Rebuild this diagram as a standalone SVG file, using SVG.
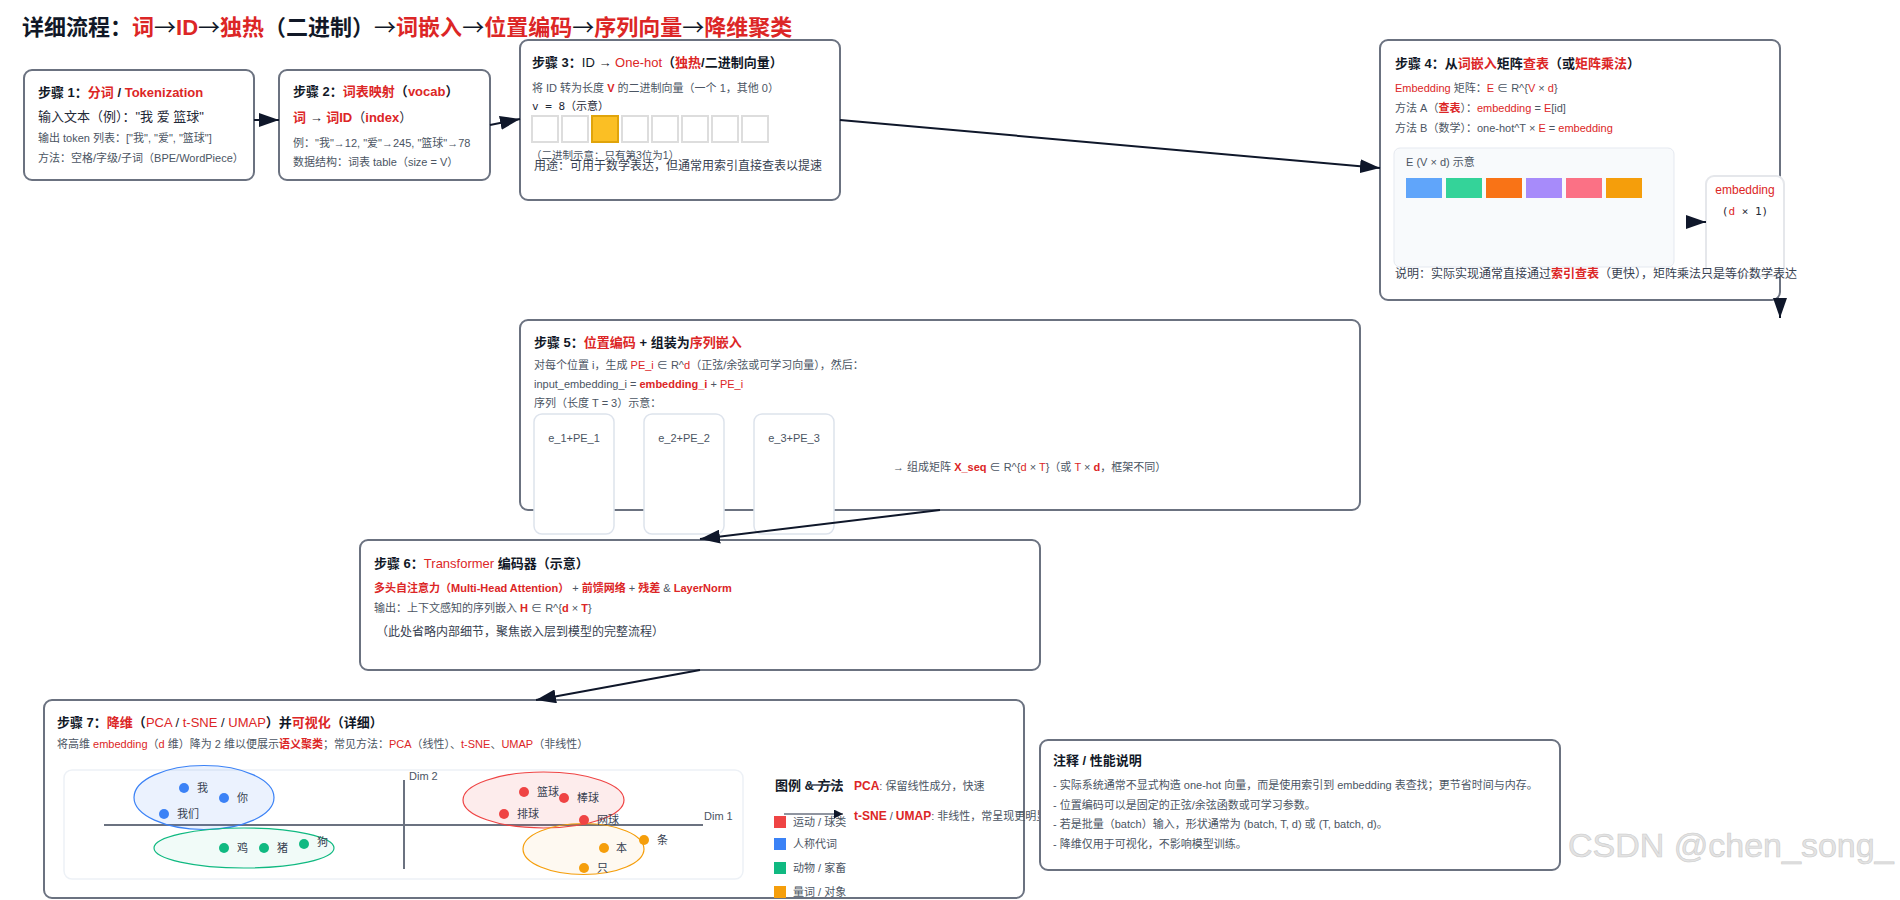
<svg xmlns="http://www.w3.org/2000/svg" width="1900" height="900" viewBox="0 0 1900 900">
<defs>
<style>
text { font-family: 'Liberation Sans', 'Noto Sans CJK SC', sans-serif; }
.box { fill: #ffffff; stroke: #6b7280; stroke-width: 2; }
.ttl { font-size: 22px; font-weight: bold; fill: #111827; }
.arr { font-weight: normal; font-family: 'Noto Sans CJK SC', sans-serif; }
.h { font-size: 13px; font-weight: bold; fill: #111827; }
.b13 { font-size: 13px; fill: #1f2937; }
.s { font-size: 11px; fill: #4b5563; }
.s12 { font-size: 12px; fill: #374151; }
.r { fill: #dc2626; }
.bd { font-weight: bold; }
.nb { font-weight: normal; }
.mono { font-family: 'DejaVu Sans Mono', 'Liberation Mono', 'Noto Sans CJK SC', monospace; }
.cell { fill: #ffffff; stroke: #dddddd; stroke-width: 2; }
.sub { fill: #ffffff; stroke: #dde3ec; stroke-width: 1.5; }
.conn { stroke: #0f172a; stroke-width: 2; fill: none; }
.lab { font-size: 11px; fill: #374151; }
.axis { stroke: #6b7280; stroke-width: 2; }
</style>
<marker id="ah" markerUnits="userSpaceOnUse" markerWidth="20" markerHeight="14" refX="20" refY="7" orient="auto">
<path d="M0,0 L20,7 L0,14 z" fill="#0f172a"/>
</marker>
<marker id="ahs" markerUnits="userSpaceOnUse" markerWidth="9" markerHeight="9" refX="9" refY="4.5" orient="auto">
<path d="M0,0 L9,4.5 L0,9 z" fill="#0f172a"/>
</marker>
</defs>
<rect x="0" y="0" width="1900" height="900" fill="#ffffff"/>

<g id="title">
<text x="22" y="35" class="ttl">详细流程：<tspan class="r">词</tspan><tspan class="arr">→</tspan><tspan class="r">ID</tspan><tspan class="arr">→</tspan><tspan class="r">独热</tspan>（二进制）<tspan class="arr">→</tspan><tspan class="r">词嵌入</tspan><tspan class="arr">→</tspan><tspan class="r">位置编码</tspan><tspan class="arr">→</tspan><tspan class="r">序列向量</tspan><tspan class="arr">→</tspan><tspan class="r">降维聚类</tspan></text>
</g>

<g id="step1">
<rect class="box" x="24" y="70" width="230" height="110" rx="8"/>
<text x="38" y="97" class="h">步骤 1：<tspan class="r">分词</tspan> / <tspan class="r">Tokenization</tspan></text>
<text x="38" y="121" class="b13">输入文本（例）："我 爱 篮球"</text>
<text x="38" y="142" class="s">输出 token 列表：["我", "爱", "篮球"]</text>
<text x="38" y="162" class="s">方法：空格/字级/子词（BPE/WordPiece）</text>
</g>

<g id="step2">
<rect class="box" x="279" y="70" width="211" height="110" rx="8"/>
<text x="293" y="96" class="h">步骤 2：<tspan class="r">词表映射</tspan>（<tspan class="r">vocab</tspan>）</text>
<text x="293" y="122" class="b13"><tspan class="r bd">词</tspan> → <tspan class="r bd">词ID</tspan>（<tspan class="r bd">index</tspan>）</text>
<text x="293" y="147" class="s">例："我"→12, "爱"→245, "篮球"→78</text>
<text x="293" y="166" class="s">数据结构：词表 table（size = V）</text>
</g>

<g id="step3">
<rect class="box" x="520" y="40" width="320" height="160" rx="8"/>
<text x="532" y="67" class="h">步骤 3：<tspan class="nb">ID → </tspan><tspan class="r nb">One-hot</tspan>（<tspan class="r">独热</tspan>/二进制向量）</text>
<text x="532" y="92" class="s">将 ID 转为长度 <tspan class="r bd">V</tspan> 的二进制向量（一个 1，其他 0）</text>
<text x="532" y="110" class="s mono" style="fill:#1f2937">v = 8（示意）</text>
<rect class="cell" x="532" y="116" width="26" height="26"/>
<rect class="cell" x="562" y="116" width="26" height="26"/>
<rect x="592" y="116" width="26" height="26" fill="#fbbf24" stroke="#e0a40b" stroke-width="2"/>
<rect class="cell" x="622" y="116" width="26" height="26"/>
<rect class="cell" x="652" y="116" width="26" height="26"/>
<rect class="cell" x="682" y="116" width="26" height="26"/>
<rect class="cell" x="712" y="116" width="26" height="26"/>
<rect class="cell" x="742" y="116" width="26" height="26"/>
<text x="531" y="159" class="s" style="font-size:10.5px">（二进制示意：只有第3位为1）</text>
<text x="534" y="170" class="s12">用途：可用于数学表达，但通常用索引直接查表以提速</text>
</g>

<g id="step4">
<rect class="box" x="1380" y="40" width="400" height="260" rx="8"/>
<text x="1395" y="68" class="h">步骤 4：从<tspan class="r">词嵌入</tspan>矩阵<tspan class="r">查表</tspan>（或<tspan class="r">矩阵乘法</tspan>）</text>
<text x="1395" y="92" class="s"><tspan class="r">Embedding</tspan> 矩阵：<tspan class="r">E</tspan> ∈ R^{<tspan class="r">V</tspan> × <tspan class="r">d</tspan>}</text>
<text x="1395" y="112" class="s">方法 A（<tspan class="r bd">查表</tspan>）：<tspan class="r">embedding</tspan> = <tspan class="r">E</tspan>[id]</text>
<text x="1395" y="132" class="s">方法 B（数学）：one-hot^T × <tspan class="r">E</tspan> = <tspan class="r">embedding</tspan></text>
<rect x="1394" y="148" width="280" height="119" rx="6" fill="#f8fafc" stroke="#e5e9f0" stroke-width="1"/>
<text x="1406" y="166" class="s">E (V × d) 示意</text>
<rect x="1406" y="178" width="36" height="20" fill="#60a5fa"/>
<rect x="1446" y="178" width="36" height="20" fill="#34d399"/>
<rect x="1486" y="178" width="36" height="20" fill="#f97316"/>
<rect x="1526" y="178" width="36" height="20" fill="#a78bfa"/>
<rect x="1566" y="178" width="36" height="20" fill="#fb7185"/>
<rect x="1606" y="178" width="36" height="20" fill="#f59e0b"/>
<g id="embedding-vector">
<rect x="1706" y="176" width="78" height="100" rx="8" fill="#ffffff" stroke="#e5e7eb" stroke-width="2"/>
<text x="1745" y="194" text-anchor="middle" font-size="12" class="r">embedding</text>
<text x="1745" y="215" text-anchor="middle" font-size="11" class="mono" fill="#1f2937">(<tspan class="r">d</tspan> × 1)</text>
</g>
<text x="1395" y="278" class="s12">说明：实际实现通常直接通过<tspan class="r bd">索引查表</tspan>（更快），矩阵乘法只是等价数学表达</text>
</g>

<g id="step5">
<rect class="box" x="520" y="320" width="840" height="190" rx="8"/>
<text x="534" y="347" class="h">步骤 5：<tspan class="r">位置编码</tspan> + 组装为<tspan class="r">序列嵌入</tspan></text>
<text x="534" y="369" class="s">对每个位置 i，生成 <tspan class="r">PE_i</tspan> ∈ R^<tspan class="r">d</tspan>（正弦/余弦或可学习向量），然后：</text>
<text x="534" y="388" class="s">input_embedding_i = <tspan class="r bd">embedding_i</tspan> + <tspan class="r">PE_i</tspan></text>
<text x="534" y="407" class="s">序列（长度 T = 3）示意：</text>
<rect class="sub" x="534" y="414" width="80" height="120" rx="8"/>
<rect class="sub" x="644" y="414" width="80" height="120" rx="8"/>
<rect class="sub" x="754" y="414" width="80" height="120" rx="8"/>
<text x="574" y="442" class="s" text-anchor="middle">e_1+PE_1</text>
<text x="684" y="442" class="s" text-anchor="middle">e_2+PE_2</text>
<text x="794" y="442" class="s" text-anchor="middle">e_3+PE_3</text>
<text x="893" y="471" class="s">→ 组成矩阵 <tspan class="r bd">X_seq</tspan> ∈ R^{<tspan class="r">d</tspan> × <tspan class="r">T</tspan>}（或 <tspan class="r">T</tspan> × <tspan class="r bd">d</tspan>，框架不同）</text>
</g>

<g id="step6">
<rect class="box" x="360" y="540" width="680" height="130" rx="8"/>
<text x="374" y="568" class="h">步骤 6：<tspan class="r nb">Transformer</tspan> 编码器（示意）</text>
<text x="374" y="592" class="s"><tspan class="r bd">多头自注意力（Multi-Head Attention）</tspan> + <tspan class="r bd">前馈网络</tspan> + <tspan class="r bd">残差</tspan> &amp; <tspan class="r bd">LayerNorm</tspan></text>
<text x="374" y="612" class="s">输出：上下文感知的序列嵌入 <tspan class="r bd">H</tspan> ∈ R^{<tspan class="r bd">d</tspan> × <tspan class="r bd">T</tspan>}</text>
<text x="376" y="636" class="s12">（此处省略内部细节，聚焦嵌入层到模型的完整流程）</text>
</g>

<g id="step7">
<rect class="box" x="44" y="700" width="980" height="198" rx="8"/>
<text x="57" y="727" class="h">步骤 7：<tspan class="r">降维</tspan>（<tspan class="r nb">PCA</tspan><tspan class="nb"> / </tspan><tspan class="r nb">t-SNE</tspan><tspan class="nb"> / </tspan><tspan class="r nb">UMAP</tspan>）并<tspan class="r">可视化</tspan>（详细）</text>
<text x="57" y="748" class="s">将高维 <tspan class="r">embedding</tspan>（<tspan class="r">d</tspan> 维）降为 2 维以便展示<tspan class="r bd">语义聚类</tspan>；常见方法：<tspan class="r">PCA</tspan>（线性）、<tspan class="r">t-SNE</tspan>、<tspan class="r">UMAP</tspan>（非线性）</text>
<rect x="64" y="770" width="679" height="109" rx="8" fill="#ffffff" stroke="#edf1f6" stroke-width="1.5"/>
<line class="axis" x1="104" y1="825" x2="703" y2="825"/>
<line class="axis" x1="404" y1="780" x2="404" y2="869"/>
<text x="409" y="780" class="s">Dim 2</text>
<text x="704" y="820" class="s">Dim 1</text>
<ellipse cx="204" cy="797.5" rx="70" ry="32" fill="#3b82f6" fill-opacity="0.1" stroke="#3b82f6" stroke-width="1.2"/>
<ellipse cx="244" cy="848" rx="90" ry="20" fill="#10b981" fill-opacity="0.06" stroke="#10b981" stroke-width="1.2"/>
<ellipse cx="543.5" cy="800" rx="80.5" ry="28" fill="#ef4444" fill-opacity="0.1" stroke="#ef4444" stroke-width="1.2"/>
<ellipse cx="583.5" cy="849" rx="60.5" ry="25.5" fill="#f59e0b" fill-opacity="0.06" stroke="#f59e0b" stroke-width="1.2"/>
<g fill="#3b82f6">
<circle cx="184" cy="788" r="5"/><circle cx="224" cy="798" r="5"/><circle cx="164" cy="814" r="5"/>
</g>
<g fill="#10b981">
<circle cx="224" cy="848" r="5"/><circle cx="264" cy="848" r="5"/><circle cx="304" cy="844" r="5"/>
</g>
<g fill="#ef4444">
<circle cx="524" cy="792" r="5"/><circle cx="504" cy="814" r="5"/><circle cx="564" cy="798" r="5"/><circle cx="584" cy="820" r="5"/>
</g>
<g fill="#f59e0b">
<circle cx="644" cy="840" r="5"/><circle cx="604" cy="848" r="5"/><circle cx="584" cy="868" r="5"/>
</g>
<text x="197" y="792" class="lab">我</text>
<text x="237" y="802" class="lab">你</text>
<text x="177" y="818" class="lab">我们</text>
<text x="237" y="852" class="lab">鸡</text>
<text x="277" y="852" class="lab">猪</text>
<text x="317" y="846" class="lab">狗</text>
<text x="537" y="796" class="lab">篮球</text>
<text x="517" y="818" class="lab">排球</text>
<text x="577" y="802" class="lab">棒球</text>
<text x="597" y="824" class="lab">网球</text>
<text x="657" y="844" class="lab">条</text>
<text x="616" y="852" class="lab">本</text>
<text x="597" y="872" class="lab">只</text>
<text x="775" y="790" class="h">图例 &amp; 方法</text>
<line x1="806" y1="785" x2="843" y2="785" stroke="#374151" stroke-width="1.5"/>
<rect x="774" y="816" width="12" height="12" fill="#ef4444"/>
<rect x="774" y="838" width="12" height="12" fill="#3b82f6"/>
<rect x="774" y="862" width="12" height="12" fill="#10b981"/>
<rect x="774" y="886" width="12" height="12" fill="#f59e0b"/>
<text x="793" y="826" class="s">运动 / 球类</text>
<text x="793" y="848" class="s">人称代词</text>
<text x="793" y="872" class="s">动物 / 家畜</text>
<text x="793" y="896" class="s">量词 / 对象</text>
<text x="854" y="790" class="s"><tspan class="r bd" font-size="12">PCA</tspan>: 保留线性成分，快速</text>
<text x="854" y="820" class="s"><tspan class="r bd" font-size="12">t-SNE</tspan> / <tspan class="r bd" font-size="12">UMAP</tspan>: 非线性，常呈现更明显</text>
<line x1="784" y1="814" x2="843" y2="814" stroke="#6b7280" stroke-width="1.5" marker-end="url(#ahs)"/>
</g>

<g id="notes">
<rect class="box" x="1040" y="740" width="520" height="130" rx="8"/>
<text x="1053" y="765" class="h">注释 / 性能说明</text>
<text x="1053" y="789" class="s">- 实际系统通常不显式构造 one-hot 向量，而是使用索引到 embedding 表查找；更节省时间与内存。</text>
<text x="1053" y="809" class="s">- 位置编码可以是固定的正弦/余弦函数或可学习参数。</text>
<text x="1053" y="828" class="s">- 若是批量（batch）输入，形状通常为 (batch, T, d) 或 (T, batch, d)。</text>
<text x="1053" y="848" class="s">- 降维仅用于可视化，不影响模型训练。</text>
</g>

<g id="connectors">
<line class="conn" x1="254" y1="120" x2="279" y2="120" marker-end="url(#ah)"/>
<line class="conn" x1="490" y1="125" x2="520" y2="119" marker-end="url(#ah)"/>
<line class="conn" x1="840" y1="120" x2="1380" y2="168" marker-end="url(#ah)"/>
<line class="conn" x1="1686" y1="222" x2="1706" y2="222" marker-end="url(#ah)"/>
<line class="conn" x1="1780" y1="300" x2="1780" y2="318" marker-end="url(#ah)"/>
<line class="conn" x1="940" y1="510" x2="700" y2="539" marker-end="url(#ah)"/>
<line class="conn" x1="700" y1="670" x2="536" y2="700" marker-end="url(#ah)"/>
</g>

<g id="watermark">
<text x="1568" y="857" font-size="34" fill="#e3e3e3" stroke="#cccccc" stroke-width="0.6">CSDN @chen_song_</text>
</g>
</svg>
